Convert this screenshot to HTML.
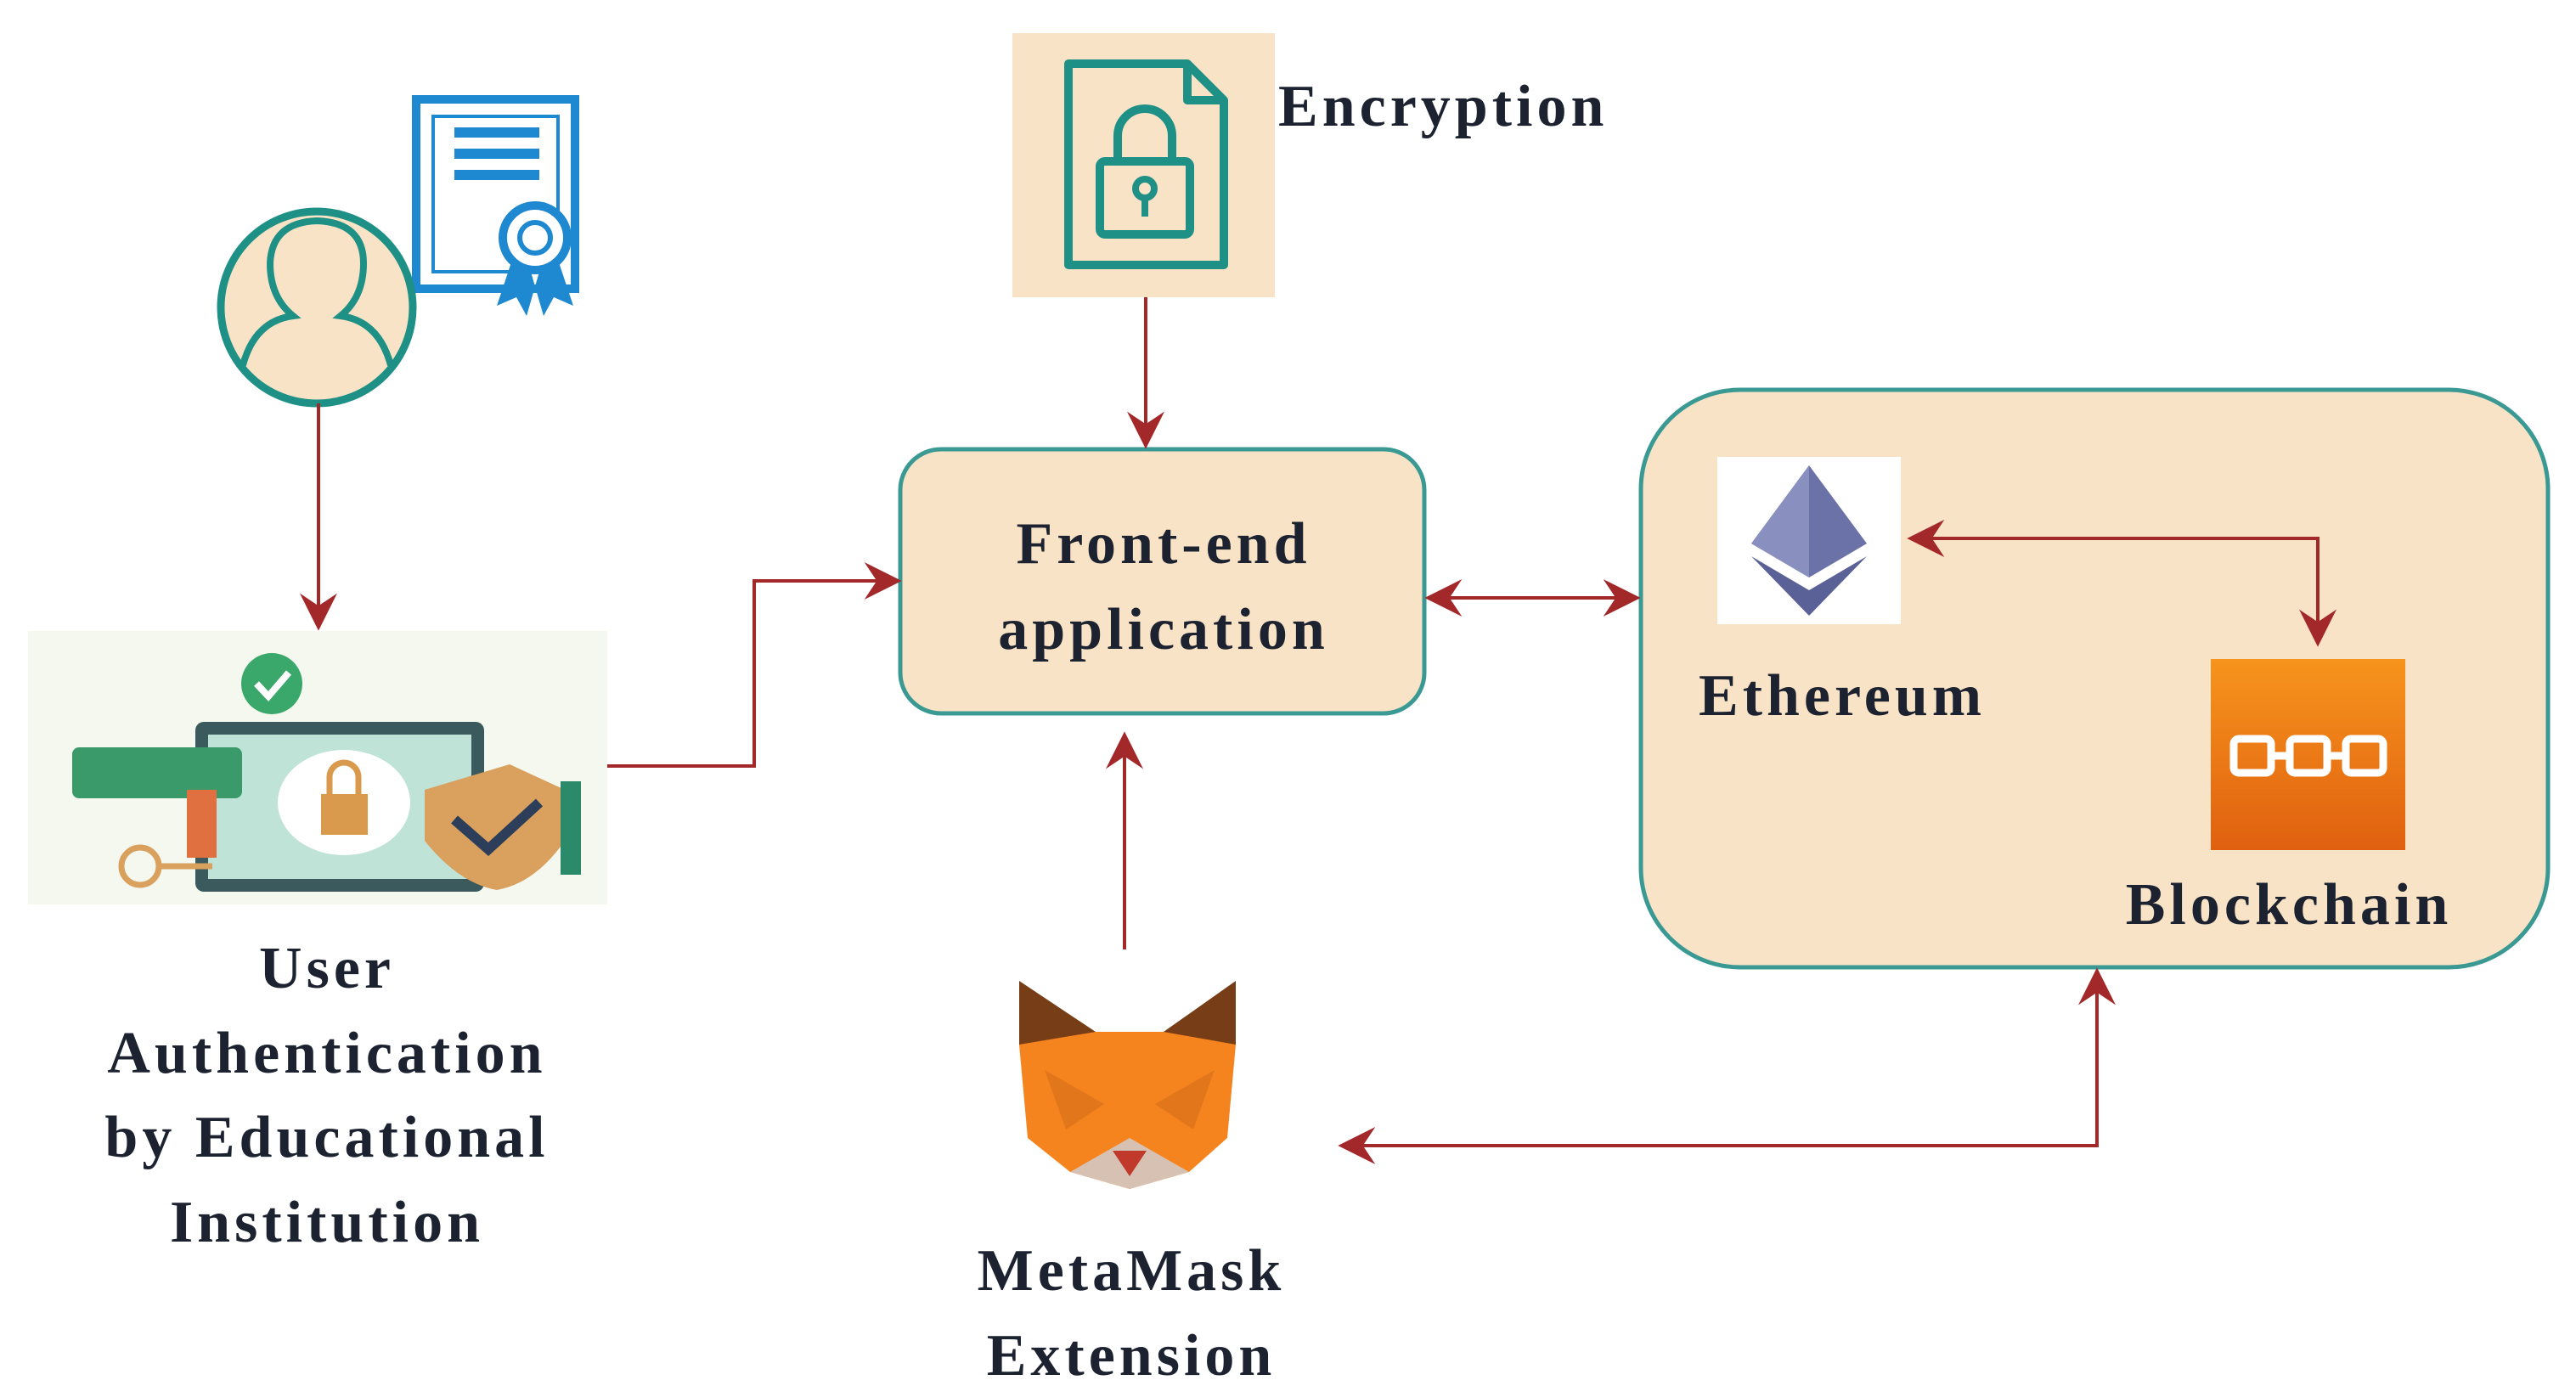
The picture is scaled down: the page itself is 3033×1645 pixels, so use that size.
<!DOCTYPE html>
<html><head><meta charset="utf-8"><style>
html,body{margin:0;padding:0;background:#fff;}
svg{display:block;}
text{font-family:"Liberation Serif",serif;font-weight:bold;fill:#1c2230;letter-spacing:5px;}
</style></head><body>
<svg width="3033" height="1645" viewBox="0 0 3033 1645" xmlns="http://www.w3.org/2000/svg">
<defs>
<marker id="a" viewBox="0 0 12 12" refX="11" refY="6" markerWidth="44" markerHeight="44" markerUnits="userSpaceOnUse" orient="auto-start-reverse">
<path d="M0,0 L12,6 L0,12 L4,6 Z" fill="#a3282a"/>
</marker>
<linearGradient id="bc" x1="0" y1="0" x2="0" y2="1"><stop offset="0" stop-color="#f7941d"/><stop offset="1" stop-color="#e0600f"/></linearGradient>
</defs>

<!-- Encryption -->
<rect x="1192" y="39" width="309" height="311" fill="#f9e3c6"/>
<path d="M1258,75 L1398,75 L1441,118 L1441,312 L1258,312 Z M1398,75 L1398,118 L1441,118" fill="none" stroke="#1e9086" stroke-width="10" stroke-linejoin="round"/>
<rect x="1295" y="190" width="106" height="86" rx="6" fill="none" stroke="#1e9086" stroke-width="10"/>
<path d="M1316,190 L1316,160 A32,32 0 0 1 1380,160 L1380,190" fill="none" stroke="#1e9086" stroke-width="10"/>
<circle cx="1348" cy="222" r="11" fill="none" stroke="#1e9086" stroke-width="8"/>
<line x1="1348" y1="232" x2="1348" y2="255" stroke="#1e9086" stroke-width="8"/>
<text x="1505" y="148" font-size="70">Encryption</text>

<!-- Person + certificate -->
<rect x="490" y="117" width="187" height="223" fill="#fff" stroke="#1e88d0" stroke-width="10"/>
<rect x="510" y="137" width="147" height="183" fill="none" stroke="#1e88d0" stroke-width="4"/>
<rect x="535" y="150" width="100" height="12" fill="#1e88d0"/>
<rect x="535" y="175" width="100" height="12" fill="#1e88d0"/>
<rect x="535" y="200" width="100" height="12" fill="#1e88d0"/>
<path d="M605,300 L585,360 L608,350 L620,372 L635,320 Z M655,300 L675,360 L652,350 L640,372 L625,320 Z" fill="#1e88d0"/>
<circle cx="630" cy="280" r="38" fill="#fff" stroke="#1e88d0" stroke-width="10"/>
<circle cx="630" cy="280" r="18" fill="none" stroke="#1e88d0" stroke-width="6"/>
<circle cx="373" cy="362" r="113" fill="#f9e3c6" stroke="#1e9086" stroke-width="9"/>
<path d="M286,430 Q300,378 345,372 Q318,350 318,310 Q320,262 373,260 Q428,262 428,310 Q428,350 401,372 Q446,378 460,430" fill="none" stroke="#1e9086" stroke-width="8"/>

<!-- Auth image -->
<rect x="33" y="743" width="682" height="322" fill="#f4f8ee"/>
<rect x="230" y="850" width="340" height="200" rx="10" fill="#3a5a5e"/>
<rect x="245" y="865" width="310" height="170" fill="#bfe3d6"/>
<rect x="85" y="880" width="200" height="60" rx="8" fill="#3a9a6a"/>
<circle cx="320" cy="805" r="36" fill="#3aa86a"/>
<path d="M302,805 L316,820 L340,792" fill="none" stroke="#fff" stroke-width="8"/>
<ellipse cx="405" cy="945" rx="78" ry="62" fill="#fff"/>
<rect x="378" y="935" width="55" height="48" fill="#d99a4e"/>
<path d="M388,935 L388,915 A17,17 0 0 1 422,915 L422,935" fill="none" stroke="#d99a4e" stroke-width="7"/>
<path d="M500,930 L600,900 L665,930 L665,990 Q630,1040 585,1048 Q540,1040 500,990 Z" fill="#d9a05e"/>
<path d="M535,965 L575,1000 L635,945" fill="none" stroke="#2d3e5a" stroke-width="12"/>
<circle cx="165" cy="1020" r="22" fill="none" stroke="#d9a05e" stroke-width="7"/>
<line x1="185" y1="1020" x2="250" y2="1020" stroke="#d9a05e" stroke-width="7"/>
<rect x="220" y="930" width="35" height="80" fill="#e07040"/>
<rect x="660" y="920" width="24" height="110" fill="#2b8a6a"/>
<text x="385" y="1163" font-size="70" text-anchor="middle">User</text>
<text x="385" y="1263" font-size="70" text-anchor="middle">Authentication</text>
<text x="385" y="1362" font-size="70" text-anchor="middle">by Educational</text>
<text x="385" y="1462" font-size="70" text-anchor="middle">Institution</text>

<!-- Front-end -->
<rect x="1060" y="529" width="617" height="311" rx="48" fill="#f9e3c6" stroke="#3a9a93" stroke-width="5"/>
<text x="1370" y="663" font-size="70" text-anchor="middle">Front-end</text>
<text x="1370" y="764" font-size="70" text-anchor="middle">application</text>

<!-- Right box -->
<rect x="1932" y="459" width="1068" height="680" rx="117" fill="#f9e3c6" stroke="#3a9a93" stroke-width="5"/>
<rect x="2022" y="538" width="216" height="197" fill="#fff"/>
<polygon points="2130,548 2198,640 2130,680 2062,640" fill="#6b72a8"/>
<polygon points="2130,548 2130,680 2062,640" fill="#8990c0"/>
<polygon points="2062,655 2130,695 2198,655 2130,725" fill="#5a6196"/>
<text x="2000" y="842" font-size="70">Ethereum</text>
<rect x="2603" y="776" width="229" height="225" fill="url(#bc)"/>
<g fill="none" stroke="#fff" stroke-width="9">
<rect x="2630" y="870" width="44" height="40" rx="6"/><rect x="2696" y="870" width="44" height="40" rx="6"/><rect x="2762" y="870" width="44" height="40" rx="6"/>
<line x1="2674" y1="890" x2="2696" y2="890"/><line x1="2740" y1="890" x2="2762" y2="890"/>
</g>
<text x="2695" y="1088" font-size="70" text-anchor="middle">Blockchain</text>

<!-- MetaMask fox -->
<polygon points="1200,1155 1290,1215 1325,1290 1200,1230" fill="#763d16"/>
<polygon points="1455,1155 1370,1215 1335,1290 1455,1230" fill="#763d16"/>
<polygon points="1200,1230 1290,1215 1370,1215 1455,1230 1445,1340 1400,1380 1330,1400 1260,1380 1210,1340" fill="#f5841f"/>
<polygon points="1260,1380 1330,1340 1400,1380 1330,1400" fill="#d7c1b3"/>
<polygon points="1230,1260 1300,1300 1255,1330" fill="#e2761b"/>
<polygon points="1430,1260 1360,1300 1405,1330" fill="#e2761b"/>
<polygon points="1310,1355 1350,1355 1330,1385" fill="#c0392b"/>
<text x="1332" y="1519" font-size="70" text-anchor="middle">MetaMask</text>
<text x="1332" y="1619" font-size="70" text-anchor="middle">Extension</text>

<!-- Arrows -->
<g fill="none" stroke="#a3282a" stroke-width="4">
<line x1="375" y1="475" x2="375" y2="739" marker-end="url(#a)"/>
<polyline points="715,902 888,902 888,684 1058,684" marker-end="url(#a)"/>
<line x1="1349" y1="350" x2="1349" y2="525" marker-end="url(#a)"/>
<line x1="1681" y1="704" x2="1928" y2="704" marker-start="url(#a)" marker-end="url(#a)"/>
<line x1="1324" y1="1118" x2="1324" y2="865" marker-end="url(#a)"/>
<polyline points="2249,634 2729,634 2729,758" marker-start="url(#a)" marker-end="url(#a)"/>
<polyline points="1579,1349 2469,1349 2469,1143" marker-start="url(#a)" marker-end="url(#a)"/>
</g>
</svg>
</body></html>
